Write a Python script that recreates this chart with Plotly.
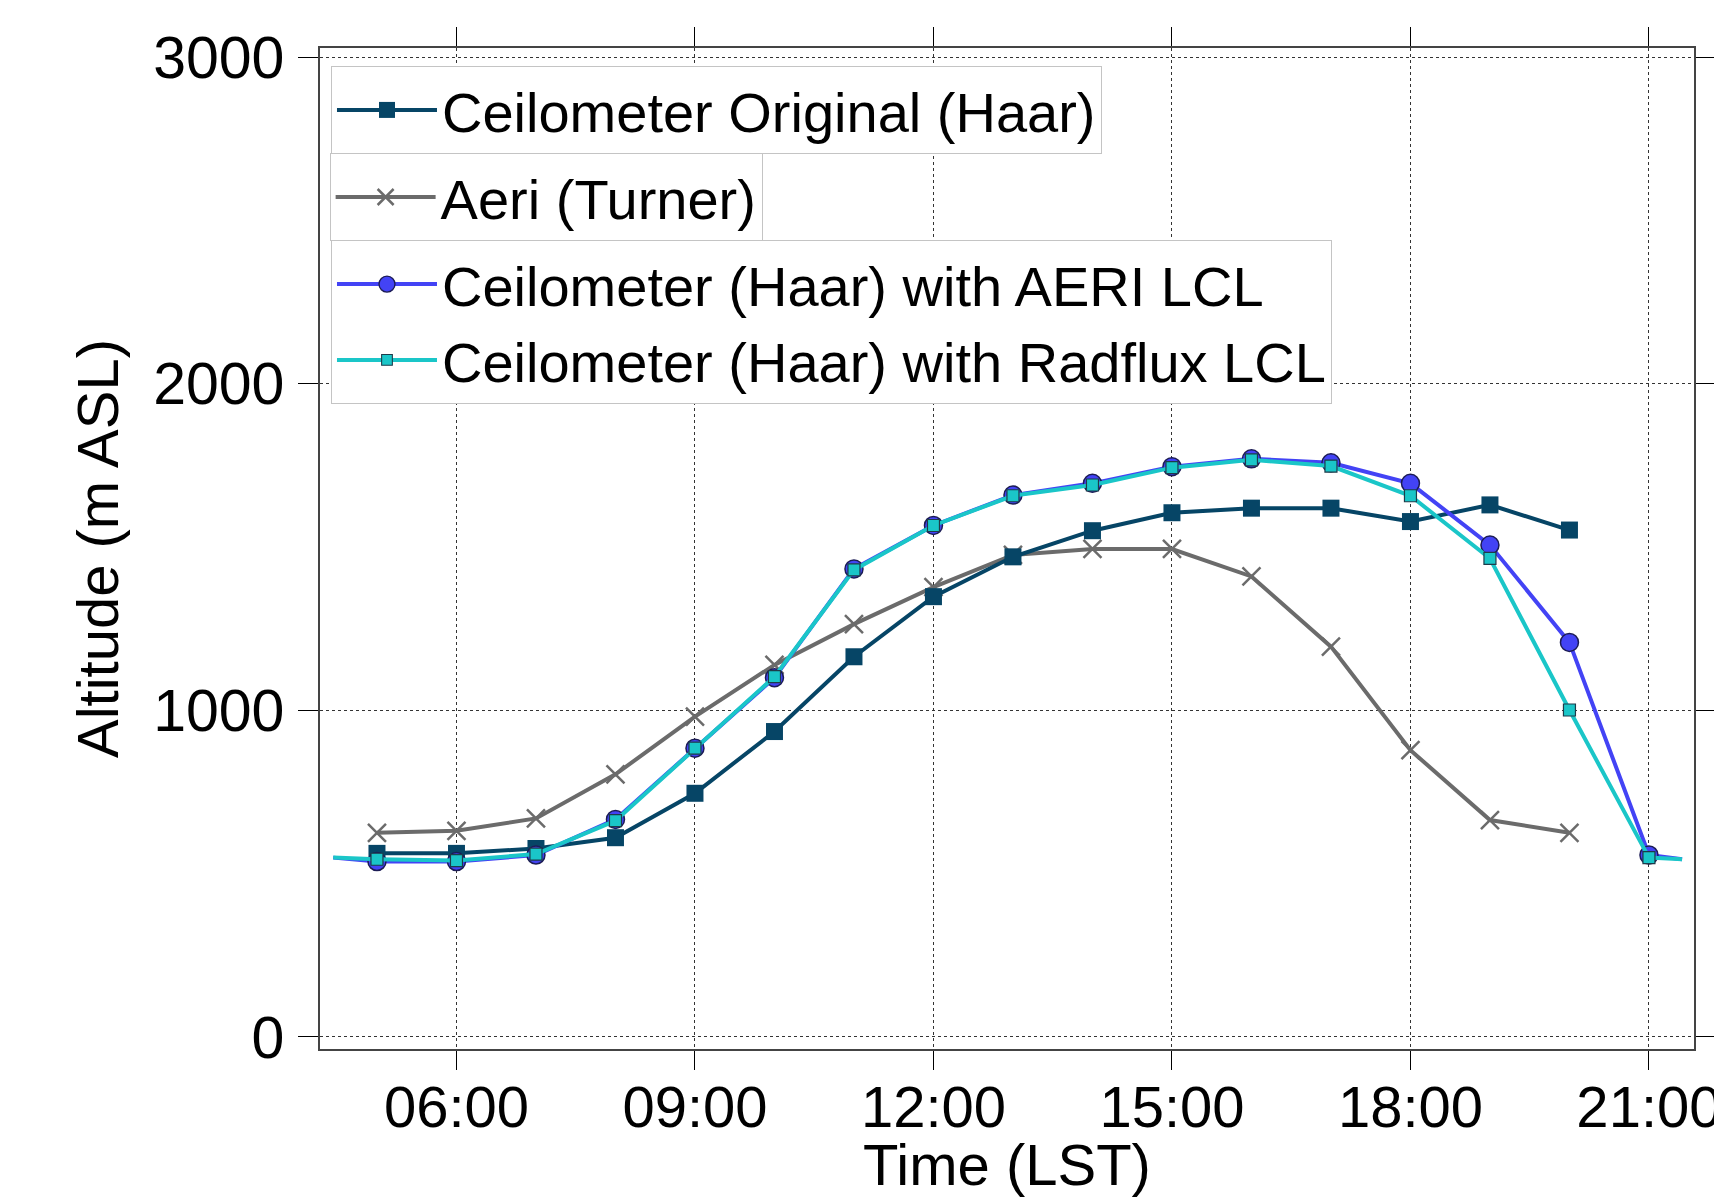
import plotly.graph_objects as go

DAY = "2017-07-01 "

# Ceilometer Original (Haar)
orig_times = ["05:00", "06:00", "07:00", "08:00", "09:00", "10:00", "11:00", "12:00",
              "13:00", "14:00", "15:00", "16:00", "17:00", "18:00", "19:00", "20:00"]
orig_vals = [562, 562, 577, 610, 746, 935, 1164, 1348, 1470, 1550, 1605, 1619, 1619, 1578, 1629, 1552]

# Aeri (Turner)
aeri_times = ["05:00", "06:00", "07:00", "08:00", "09:00", "10:00", "11:00", "12:00",
              "13:00", "14:00", "15:00", "16:00", "17:00", "18:00", "19:00", "20:00"]
aeri_vals = [625, 631, 669, 804, 981, 1139, 1264, 1377, 1476, 1494, 1494, 1410, 1195, 878, 664, 625]

# Ceilometer (Haar) with AERI LCL / Radflux LCL (line runs beyond the hourly markers)
lcl_times = ["04:27", "05:00", "06:00", "07:00", "08:00", "09:00", "10:00", "11:00", "12:00",
             "13:00", "14:00", "15:00", "16:00", "17:00", "18:00", "19:00", "20:00", "21:00", "21:25"]
aeri_lcl_vals = [549, 537, 537, 557, 666, 884, 1100, 1433, 1566, 1659, 1695, 1746, 1770, 1758,
                 1695, 1506, 1208, 557, 544]
radflux_lcl_vals = [549, 544, 540, 560, 662, 884, 1103, 1430, 1566, 1657, 1690, 1743, 1767, 1748,
                    1657, 1465, 1001, 549, 544]
lcl_marker_on = [0] + [1] * 17 + [0]

x_ticks = ["06:00", "09:00", "12:00", "15:00", "18:00", "21:00"]
y_ticks = [0, 1000, 2000, 3000]

FONT = "Liberation Sans, Arial, Helvetica, sans-serif"

fig = go.Figure()

fig.add_trace(go.Scatter(
    x=[DAY + t for t in aeri_times], y=aeri_vals, name="Aeri (Turner)",
    mode="lines+markers", legend="legend2",
    line=dict(color="#6b6b6b", width=4),
    marker=dict(symbol="x-thin", size=18, color="#6b6b6b", opacity=1,
                line=dict(color="#6b6b6b", width=2.5)),
))
fig.add_trace(go.Scatter(
    x=[DAY + t for t in orig_times], y=orig_vals, name="Ceilometer Original (Haar)",
    mode="lines+markers", legend="legend",
    line=dict(color="#064566", width=4),
    marker=dict(symbol="square", size=17, color="#064566", opacity=1),
))
fig.add_trace(go.Scatter(
    x=[DAY + t for t in lcl_times], y=aeri_lcl_vals, name="Ceilometer (Haar) with AERI LCL",
    mode="lines+markers", legend="legend3",
    line=dict(color="#4343f5", width=4),
    marker=dict(symbol="circle", size=[18 * m for m in lcl_marker_on], color="#4343f5", opacity=1,
                line=dict(color="#1c1c55", width=[1.5 * m for m in lcl_marker_on])),
))
fig.add_trace(go.Scatter(
    x=[DAY + t for t in lcl_times], y=radflux_lcl_vals, name="Ceilometer (Haar) with Radflux LCL",
    mode="lines+markers", legend="legend3",
    line=dict(color="#1ac6c8", width=4),
    marker=dict(symbol="square", size=[12 * m for m in lcl_marker_on], color="#1ac6c8", opacity=1,
                line=dict(color="#1d3b4a", width=[1.2 * m for m in lcl_marker_on])),
))

leg_common = dict(
    xanchor="left", yanchor="top", bgcolor="white",
    bordercolor="#c4c4c4", borderwidth=1,
    font=dict(family=FONT, size=56, color="black"),
    itemsizing="trace", itemwidth=100, tracegroupgap=0,
)

# plot area: x 320..1694, y 48..1049 (pixels)
fig.update_layout(
    width=1714, height=1197,
    margin=dict(l=320, r=20, t=48, b=148),
    paper_bgcolor="white", plot_bgcolor="white",
    font=dict(family=FONT, size=56, color="black"),
    showlegend=True,
    legend=dict(x=0.008, y=0.982, **leg_common),
    legend2=dict(x=0.007, y=0.895, **leg_common),
    legend3=dict(x=0.008, y=0.808, **leg_common),
    xaxis=dict(
        range=[DAY + "04:17", DAY + "21:34"],
        tickvals=[DAY + t for t in x_ticks], ticktext=x_ticks,
        ticks="outside", ticklen=19, tickwidth=1, tickcolor="black",
        showline=True, linecolor="#444", linewidth=2, mirror="ticks",
        showgrid=True, gridcolor="#333", gridwidth=1, griddash="dot",
        tickfont=dict(size=58), ticklabelstandoff=-13, ticklabeloverflow="allow",
        title=dict(text="Time (LST)", font=dict(size=58), standoff=42),
        zeroline=False, automargin=False,
    ),
    yaxis=dict(
        range=[-37, 3028],
        tickvals=y_ticks,
        ticks="outside", ticklen=20, tickwidth=1, tickcolor="black",
        showline=True, linecolor="#444", linewidth=1.5, mirror="ticks",
        showgrid=True, gridcolor="#333", gridwidth=1, griddash="dot",
        tickfont=dict(size=59), ticklabelstandoff=2,
        title=dict(text="Altitude (m ASL)", font=dict(size=58), standoff=16),
        zeroline=False, automargin=False,
    ),
)

fig.write_html("out.html")
